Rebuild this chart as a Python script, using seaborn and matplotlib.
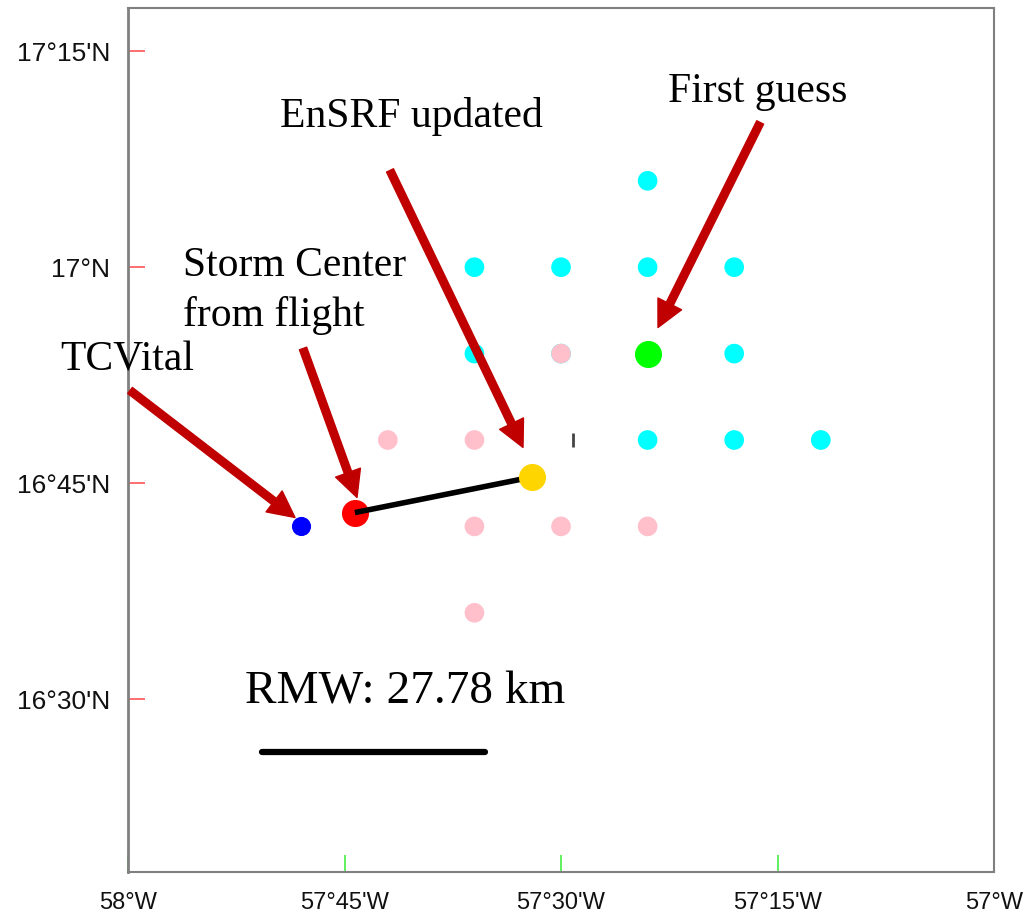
import seaborn as sns
import pandas as pd
import matplotlib.pyplot as plt
from matplotlib.ticker import FixedLocator

# ensemble member positions (lon, lat) on the 0.1 degree grid
cyan_lon = [-57.4, -57.6, -57.5, -57.4, -57.3, -57.6, -57.5, -57.3, -57.4, -57.3, -57.2]
cyan_lat = [17.1, 17.0, 17.0, 17.0, 17.0, 16.9, 16.9, 16.9, 16.8, 16.8, 16.8]
pink_lon = [-57.7, -57.6, -57.5, -57.6, -57.5, -57.4, -57.6]
pink_lat = [16.8, 16.8, 16.9, 16.7, 16.7, 16.7, 16.6]

# storm centres
center_names = ["First guess", "EnSRF updated", "Storm Center\nfrom flight", "TCVital"]
center_lon = [-57.40, -57.534, -57.738, -57.80]
center_lat = [16.90, 16.757, 16.716, 16.70]
center_colors = ["#00FF00", "#FFD500", "#FF0000", "#0000FF"]
center_sizes = [380, 380, 380, 190]

# label text positions (left, baseline) and arrow tails/tips
label_xy = [(-57.376, 17.191), (-57.8245, 17.162), (-57.9365, 16.990), (-58.0785, 16.880)]
arrow_tail = [(-57.270, 17.1675), (-57.6975, 17.112), (-57.7979, 16.9059), (-57.9977, 16.8573)]
arrow_tip = [(-57.388, 16.9302), (-57.5439, 16.7914), (-57.7356, 16.7335), (-57.8072, 16.7103)]

# RMW scale bar
rmw_km = 27.78
bar_lon = [-57.845, -57.588]
bar_lat = [16.439, 16.439]

xticks = [-58.0, -57.75, -57.5, -57.25, -57.0]
xlabels = ["58°W", "57°45'W", "57°30'W", "57°15'W", "57°W"]
yticks = [16.5, 16.75, 17.0, 17.25]
ylabels = ["16°30'N", "16°45'N", "17°N", "17°15'N"]

sns.set_style("white")
plt.rcParams['font.family'] = ['Liberation Sans', 'DejaVu Sans']
plt.rcParams['text.color'] = 'black'

fig = plt.figure(figsize=(10.31, 9.18), dpi=100)
ax = fig.add_axes([0.1242, 0.0501, 0.8399, 0.9412])

grid = pd.DataFrame({
    "lon": cyan_lon + pink_lon,
    "lat": cyan_lat + pink_lat,
    "kind": ["cyan"] * len(cyan_lon) + ["pink"] * len(pink_lon),
})
sns.scatterplot(data=grid, x="lon", y="lat", hue="kind",
                palette={"cyan": "#00FFFF", "pink": "#FFC0CB"},
                s=200, linewidth=0, legend=False, ax=ax, zorder=2)

# small dark mark partly hidden at 16.8N
ax.plot([-57.486], [16.80], marker="|", color="#444444", markersize=10, mew=2, zorder=2)

# red -> yellow distance line
ax.plot([center_lon[2], center_lon[1]], [center_lat[2], center_lat[1]],
        color="black", lw=4, zorder=4, solid_capstyle="butt")

for i in range(len(center_names)):
    z = 5 if i == 1 else 3
    sns.scatterplot(x=[center_lon[i]], y=[center_lat[i]], color=center_colors[i],
                    s=center_sizes[i], linewidth=0, ax=ax, zorder=z)
    ax.annotate("", xy=arrow_tip[i], xytext=arrow_tail[i],
                arrowprops=dict(facecolor="#C00000", edgecolor="#C00000",
                                width=5.5, headwidth=19, headlength=19, shrink=0),
                zorder=6)
    lines = center_names[i].split("\n")
    for j, ln in enumerate(lines):
        ax.text(label_xy[i][0], label_xy[i][1] - j * 0.0579, ln, family="Liberation Serif",
                fontsize=30, color="black", ha="left", va="baseline", clip_on=False, zorder=7)

ax.plot(bar_lon, bar_lat, color="black", lw=4.5, solid_capstyle="round", zorder=4)
ax.text(-57.8649, 16.495, "RMW: %.2f km" % rmw_km, family="Liberation Serif",
        fontsize=34, color="black", ha="left", va="baseline")

ax.set_xlim(-58.0, -57.0)
ax.set_ylim(16.3, 17.3)
ax.xaxis.set_major_locator(FixedLocator(xticks))
ax.yaxis.set_major_locator(FixedLocator(yticks))
ax.set_xticklabels(xlabels)
ax.set_yticklabels(ylabels)
ax.tick_params(axis="x", bottom=True, direction="in", length=12, width=1.2, color="#44EE44",
               pad=14.5, labelsize=17, labelcolor="#111111")
ax.tick_params(axis="y", left=True, direction="in", length=12, width=1.2, color="#FF5555",
               pad=13, labelsize=19, labelcolor="#111111")
ax.set_xlabel("")
ax.set_ylabel("")
for sp in ax.spines.values():
    sp.set_color("#808080")
    sp.set_linewidth(1.5)
ax.spines["left"].set_linewidth(2)

fig.savefig("out.png", dpi=100)
